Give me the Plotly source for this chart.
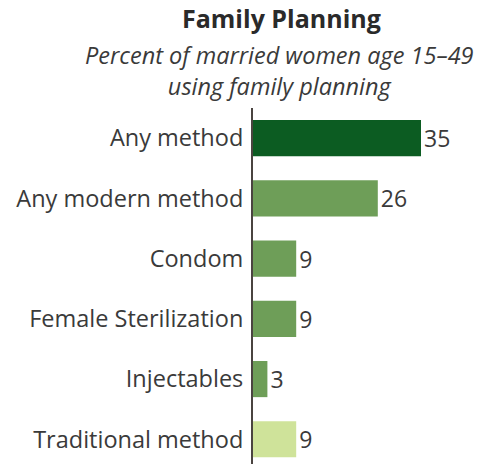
import plotly.graph_objects as go

categories = ["Any method", "Any modern method", "Condom", "Female Sterilization",
              "Injectables", "Traditional method"]
values = [35, 26, 9, 9, 3, 9]
bar_colors = ["#0c5c22", "#6e9e58", "#6e9e58", "#6e9e58", "#6e9e58", "#cfe39a"]

title_text = "Family Planning"
subtitle_lines = ["Percent of married women age 15–49", "using family planning"]

W, H = 482, 464
L, T = 253, 108
plot_w = W - L
plot_h = H - T

def py(px):
    return (H - px) / plot_h

def pxr(px):
    return (px - L) / plot_w

fig = go.Figure(go.Bar(
    y=categories, x=values, orientation="h",
    marker=dict(color=bar_colors, line=dict(width=0)),
    text=[str(v) for v in values], textposition="outside",
    textfont=dict(family="Open Sans", size=23, color="#3a3a3a"),
    constraintext="none",
    cliponaxis=False, width=0.6,
))

fig.update_layout(
    width=W, height=H,
    margin=dict(l=L, r=0, t=T, b=0, autoexpand=False),
    paper_bgcolor="white", plot_bgcolor="white",
    showlegend=False,
    font=dict(family="Open Sans", color="#3a3a3a"),
    xaxis=dict(range=[0, plot_w / 4.8], visible=False, fixedrange=True,
               automargin=False),
    yaxis=dict(
        range=[5.41, -0.5], showgrid=False, zeroline=False, automargin=False,
        showline=True, linecolor="#4a4440", linewidth=2,
        ticks="", ticklabelstandoff=3,
        tickfont=dict(family="Open Sans", size=23.5, color="#3a3a3a"),
    ),
    annotations=[
        dict(text="<b>" + title_text + "</b>", xref="paper", yref="paper",
             x=pxr(281), y=py(18), xanchor="center", yanchor="middle",
             showarrow=False, font=dict(family="Open Sans", size=25, color="#2a2a2a")),
        dict(text="<br>".join("<i>" + s + "</i>" for s in subtitle_lines),
             xref="paper", yref="paper", align="center",
             x=pxr(279), y=py(70), xanchor="center", yanchor="middle",
             showarrow=False, font=dict(family="Open Sans", size=23.5, color="#3a3a3a")),
    ],
)

fig.write_html("out.html", config={"displayModeBar": False},
               post_script="document.body.style.margin='0';")
